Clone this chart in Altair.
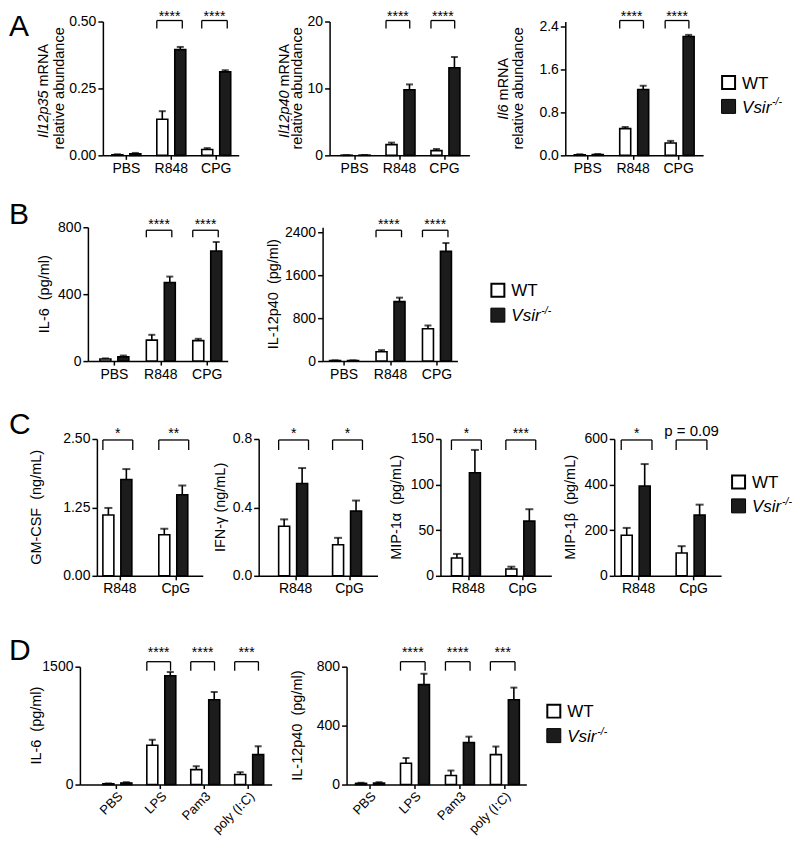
import altair as alt
import pandas as pd

FONT = "Liberation Sans"
INK = "black"
KO_FILL = "#1c1c1c"
GROUPS = ["WT", "KO"]

# ---------------- data ----------------
cats_abd = ["PBS", "R848", "CPG"]
cats_c = ["R848", "CpG"]
cats_d = ["PBS", "LPS", "Pam3", "poly (I:C)"]

sig_ab = ["", "****", "****"]
sig_c1 = ["*", "**"]
sig_c2 = ["*", "*"]
sig_c3 = ["*", "***"]
sig_c4 = ["*", "p = 0.09"]
sig_d = ["", "****", "****", "***"]

a1_wt = [0.002, 0.135, 0.022]; a1_wt_err = [0.004, 0.165, 0.027]
a1_ko = [0.006, 0.395, 0.312]; a1_ko_err = [0.009, 0.405, 0.318]
a2_wt = [0.02, 1.6, 0.7];      a2_wt_err = [0.03, 1.9, 0.95]
a2_ko = [0.03, 9.8, 13.1];     a2_ko_err = [0.05, 10.6, 14.7]
a3_wt = [0.01, 0.50, 0.23];    a3_wt_err = [0.02, 0.53, 0.27]
a3_ko = [0.015, 1.23, 2.22];   a3_ko_err = [0.025, 1.30, 2.25]
b1_wt = [12, 125, 122];        b1_wt_err = [16, 157, 133]
b1_ko = [25, 470, 658];        b1_ko_err = [33, 505, 712]
b2_wt = [10, 175, 605];        b2_wt_err = [14, 205, 665]
b2_ko = [10, 1110, 2050];      b2_ko_err = [14, 1185, 2205]
c1_wt = [1.11, 0.75];          c1_wt_err = [1.24, 0.86]
c1_ko = [1.76, 1.48];          c1_ko_err = [1.95, 1.65]
c2_wt = [0.29, 0.182];         c2_wt_err = [0.33, 0.222]
c2_ko = [0.54, 0.378];         c2_ko_err = [0.63, 0.44]
c3_wt = [19.5, 7.5];           c3_wt_err = [24, 10]
c3_ko = [113, 60];             c3_ko_err = [138, 73]
c4_wt = [178, 100];            c4_wt_err = [210, 130]
c4_ko = [394, 266];            c4_ko_err = [490, 312]
d1_wt = [10, 500, 190, 127];   d1_wt_err = [14, 570, 233, 157]
d1_ko = [20, 1385, 1080, 381]; d1_ko_err = [30, 1432, 1178, 487]
d2_wt = [8, 145, 61, 203];     d2_wt_err = [12, 180, 95, 258]
d2_ko = [10, 678, 285, 576];   d2_ko_err = [16, 752, 325, 658]

legend_labels = ["WT", "Vsir", "-/-"]
letters = ["A", "B", "C", "D"]

# ---------------- layout (sizes / positions only) ----------------
ROWS = {
    "A": dict(H=134, T=13, B=44, bt=-1, bb=7, sb=-1, pb=-1, lb=15, angle=0, xfs=14, xpad=2),
    "B": dict(H=134, T=28, B=49, bt=3, bb=10, sb=2, pb=2, lb=-3, angle=0, xfs=14, xpad=2),
    "C": dict(H=137, T=29, B=60, bt=1, bb=11, sb=-1, pb=-3, lb=-5, angle=0, xfs=14, xpad=2),
    "D": dict(H=118, T=31, B=56, bt=-5, bb=4, sb=-10, pb=-10, lb=-7, angle=-45, xfs=13, xpad=1),
}
TITLE_FS = 14.5


def band_params(W, n, s, g, c1):
    pI = 1 - g / s
    outer = W - (s * n - s + g)
    pO = outer / (2 * s)
    al = (c1 - g / 2) / outer if outer > 0 else 0.5
    return pI, max(pO, 0), min(max(al, 0), 1)


def text_layer(txt, x, y, **mk):
    return alt.Chart(pd.DataFrame({"t": [txt]})).mark_text(color=INK, **mk).encode(
        x=alt.value(x), y=alt.value(y), text="t:N")


def anchor_layer(L, W, T, bottom):
    # invisible box fixing the panel's footprint in the concat layout
    return alt.Chart(pd.DataFrame({"t": [0]})).mark_rect(fill="white", opacity=0).encode(
        x=alt.value(-L), x2=alt.value(W), y=alt.value(-T), y2=alt.value(bottom))


def make_gutter(row):
    H, T, B = row["H"], row["T"], row["B"]
    return anchor_layer(0, 1, T, H + B).properties(width=1, height=H)


def make_panel(d, lay, row, letter=None):
    cats = d["cats"]
    W, H, L, T, B = lay["W"], row["H"], lay["L"], row["T"], row["B"]
    pI, pO, al = band_params(W, len(cats), lay["s"], lay["g"], lay["c1"])
    bw = lay["b"]
    gap = lay["g"] - 2 * bw
    pIo = gap / (bw + gap)

    recs = []
    for i, c in enumerate(cats):
        recs.append(dict(cat=c, grp="WT", mean=d["wt"][i], err=d["wt_err"][i]))
        recs.append(dict(cat=c, grp="KO", mean=d["ko"][i], err=d["ko_err"][i]))
    df = pd.DataFrame(recs)
    sdf = pd.DataFrame({"cat": cats, "sig": d["sig"]})
    sdf = sdf[sdf["sig"] != ""]

    xscale = alt.Scale(domain=cats, paddingInner=pI, paddingOuter=pO, align=al)
    xaxis = alt.Axis(title=None, labelAngle=row["angle"], tickSize=4, labelOverlap=False,
                     labelPadding=row["xpad"], labelFontSize=row["xfs"])

    def X(bp=None):
        kw = dict(scale=xscale, axis=xaxis, sort=cats)
        if bp is not None:
            kw["bandPosition"] = bp
        return alt.X("cat:N", **kw)

    xo = alt.XOffset("grp:N", sort=GROUPS,
                     scale=alt.Scale(domain=GROUPS, paddingInner=pIo, paddingOuter=0))
    y = alt.Y("mean:Q", scale=alt.Scale(domain=[0, d["ymax"]], nice=False, zero=True),
              axis=alt.Axis(title=None, values=d["yticks"], format=d["yfmt"], labelOverlap=False))

    base = alt.Chart(df)
    anchor = anchor_layer(L, W, T, H + B)
    ebar = base.mark_rule(color=INK, strokeWidth=1.6).encode(
        x=X(), xOffset=xo, y=y, y2="err:Q")
    ecap = base.mark_tick(color=INK, thickness=2, size=lay["cap"], orient="horizontal").encode(
        x=X(), xOffset=xo, y="err:Q")
    bars = base.mark_bar(stroke=INK, strokeWidth=1.6).encode(
        x=X(), xOffset=xo, y=y,
        fill=alt.Fill("grp:N", scale=alt.Scale(domain=GROUPS, range=["white", KO_FILL]), legend=None))

    b0, b1 = 0.0, 0.88
    bs = alt.Chart(sdf)
    hline = bs.mark_rule(color=INK, strokeWidth=1.3).encode(
        x=X(b0), x2=alt.X2("cat:N", bandPosition=b1), y=alt.value(row["bt"]))
    v0 = bs.mark_rule(color=INK, strokeWidth=1.3).encode(
        x=X(b0), y=alt.value(row["bt"]), y2=alt.value(row["bb"]))
    v1 = bs.mark_rule(color=INK, strokeWidth=1.3).encode(
        x=X(b1), y=alt.value(row["bt"]), y2=alt.value(row["bb"]))
    stars = bs.transform_filter("indexof(datum.sig, '*') == 0").mark_text(
        color=INK, fontSize=14, baseline="alphabetic").encode(
        x=X((b0 + b1) / 2), y=alt.value(row["sb"]), text="sig:N")
    other = bs.transform_filter("indexof(datum.sig, '*') != 0").mark_text(
        color=INK, fontSize=15, baseline="alphabetic").encode(
        x=X((b0 + b1) / 2), y=alt.value(row["pb"]), text="sig:N")

    layers = [anchor, ebar, ecap, bars, hline, v0, v1, stars, other]

    if "title_it" in d:
        ay = H / 2 + lay.get("tshift", 0)
        layers.append(text_layer(d["title_it"], lay["tx1"], ay + 2, angle=270, align="right",
                                 baseline="middle", fontSize=TITLE_FS, fontStyle="italic"))
        layers.append(text_layer(d["title_rest"], lay["tx1"], ay - 2, angle=270, align="left",
                                 baseline="middle", fontSize=TITLE_FS))
        layers.append(text_layer(d["title2"], lay["tx2"], H / 2, angle=270, align="center",
                                 baseline="middle", fontSize=TITLE_FS))
    else:
        layers.append(text_layer(d["title"], lay["tx1"], H / 2, angle=270, align="center",
                                 baseline="middle", fontSize=TITLE_FS))
    if letter is not None:
        layers.append(text_layer(letter, -L, row["lb"], align="left", baseline="alphabetic",
                                 fontSize=30))
    return alt.layer(*layers).properties(width=W, height=H)


def make_legend(row, lay):
    W, H, L, T, B = lay["W"], row["H"], lay["L"], row["T"], row["B"]
    cy1, cy2 = lay["cy"]
    LF = 17
    one = pd.DataFrame({"t": [0]})
    anchor = anchor_layer(L, W, T, H + B)
    sq1 = alt.Chart(one).mark_rect(fill="white", stroke=INK, strokeWidth=2).encode(
        x=alt.value(1), x2=alt.value(14), y=alt.value(cy1 - 6.5), y2=alt.value(cy1 + 6.5))
    sq2 = alt.Chart(one).mark_rect(fill=KO_FILL, stroke=INK, strokeWidth=1).encode(
        x=alt.value(0.5), x2=alt.value(14.5), y=alt.value(cy2 - 7), y2=alt.value(cy2 + 7))
    tx = 21
    t1 = text_layer(legend_labels[0], tx, cy1 + 0.36 * LF, align="left", baseline="alphabetic",
                    fontSize=LF)
    t2 = text_layer(legend_labels[1], tx, cy2 + 0.36 * LF, align="left", baseline="alphabetic",
                    fontSize=LF, fontStyle="italic")
    t3 = text_layer(legend_labels[2], tx + 30, cy2 - 1, align="left", baseline="alphabetic",
                    fontSize=10.5, fontStyle="italic")
    return alt.layer(anchor, sq1, sq2, t1, t2, t3).properties(width=W, height=H)


def pd_(cats, wt, wte, ko, koe, sig, ymax, yticks, yfmt, **kw):
    d = dict(cats=cats, wt=wt, wt_err=wte, ko=ko, ko_err=koe, sig=sig, ymax=ymax,
             yticks=yticks, yfmt=yfmt)
    d.update(kw)
    return d


A1 = pd_(cats_abd, a1_wt, a1_wt_err, a1_ko, a1_ko_err, sig_ab, 0.5, [0, 0.25, 0.5], ".2f",
         title_it="Il12p35", title_rest="mRNA", title2="relative abundance")
A2 = pd_(cats_abd, a2_wt, a2_wt_err, a2_ko, a2_ko_err, sig_ab, 20, [0, 10, 20], "d",
         title_it="Il12p40", title_rest="mRNA", title2="relative abundance")
A3 = pd_(cats_abd, a3_wt, a3_wt_err, a3_ko, a3_ko_err, sig_ab, 2.5, [0, 0.8, 1.6, 2.4], ".1f",
         title_it="Il6", title_rest="mRNA", title2="relative abundance")
B1 = pd_(cats_abd, b1_wt, b1_wt_err, b1_ko, b1_ko_err, sig_ab, 800, [0, 400, 800], "d",
         title="IL-6\u00a0\u00a0(pg/ml)")
B2 = pd_(cats_abd, b2_wt, b2_wt_err, b2_ko, b2_ko_err, sig_ab, 2500, [0, 800, 1600, 2400], "d",
         title="IL-12p40\u00a0\u00a0(pg/ml)")
C1 = pd_(cats_c, c1_wt, c1_wt_err, c1_ko, c1_ko_err, sig_c1, 2.5, [0, 1.25, 2.5], ".2f",
         title="GM-CSF\u00a0\u00a0(ng/mL)")
C2 = pd_(cats_c, c2_wt, c2_wt_err, c2_ko, c2_ko_err, sig_c2, 0.8, [0, 0.4, 0.8], ".1f",
         title="IFN-\u03b3 (ng/mL)")
C3 = pd_(cats_c, c3_wt, c3_wt_err, c3_ko, c3_ko_err, sig_c3, 150, [0, 50, 100, 150], "d",
         title="MIP-1\u03b1\u00a0\u00a0(pg/mL)")
C4 = pd_(cats_c, c4_wt, c4_wt_err, c4_ko, c4_ko_err, sig_c4, 600, [0, 200, 400, 600], "d",
         title="MIP-1\u03b2\u00a0\u00a0(pg/mL)")
D1 = pd_(cats_d, d1_wt, d1_wt_err, d1_ko, d1_ko_err, sig_d, 1500, [0, 500, 1000, 1500], "d",
         title="IL-6\u00a0\u00a0(pg/ml)")
D2 = pd_(cats_d, d2_wt, d2_wt_err, d2_ko, d2_ko_err, sig_d, 800, [0, 400, 800], "d",
         title="IL-12p40\u00a0\u00a0(pg/ml)")

rowA = alt.hconcat(
    make_gutter(ROWS["A"]),
    make_panel(A1, dict(W=136, L=94, s=45, g=29, c1=23.5, b=11, cap=7, tx1=-59, tx2=-43), ROWS["A"], letters[0]),
    make_panel(A2, dict(W=140, L=91, s=45, g=27, c1=25, b=11, cap=7, tx1=-45, tx2=-32), ROWS["A"]),
    make_panel(A3, dict(W=138, L=96, s=45.5, g=27, c1=22.5, b=11, cap=7, tx1=-61, tx2=-46, tshift=14), ROWS["A"]),
    make_legend(ROWS["A"], dict(W=62, L=18, cy=(61, 85))),
    spacing=0)
rowB = alt.hconcat(
    make_gutter(ROWS["B"]),
    make_panel(B1, dict(W=140, L=79, s=46.5, g=29, c1=26.5, b=11.5, cap=7, tx1=-43), ROWS["B"], letters[1]),
    make_panel(B2, dict(W=135, L=95, s=46.5, g=29, c1=21.5, b=11.5, cap=7, tx1=-49), ROWS["B"]),
    make_legend(ROWS["B"], dict(W=62, L=33, cy=(63, 88))),
    spacing=0)
rowC = alt.hconcat(
    make_gutter(ROWS["C"]),
    make_panel(C1, dict(W=106, L=88, s=56, g=34, c1=23, b=13.5, cap=8, tx1=-60), ROWS["C"], letters[2]),
    make_panel(C2, dict(W=119, L=56, s=54, g=34, c1=37, b=13.5, cap=8, tx1=-38), ROWS["C"]),
    make_panel(C3, dict(W=111, L=63, s=54.5, g=34, c1=28, b=13.5, cap=8, tx1=-43), ROWS["C"]),
    make_panel(C4, dict(W=107, L=63, s=55, g=35, c1=24.5, b=13.5, cap=8, tx1=-43), ROWS["C"]),
    make_legend(ROWS["C"], dict(W=60, L=10, cy=(43, 67))),
    spacing=0)
rowD = alt.hconcat(
    make_gutter(ROWS["D"]),
    make_panel(D1, dict(W=192, L=71, s=44, g=27, c1=36.5, b=11, cap=7, tx1=-43), ROWS["D"], letters[3]),
    make_panel(D2, dict(W=180, L=75, s=45, g=28, c1=23, b=11, cap=7, tx1=-49), ROWS["D"]),
    make_legend(ROWS["D"], dict(W=62, L=20, cy=(44.5, 69))),
    spacing=0)

chart = alt.vconcat(rowA, rowB, rowC, rowD, spacing=0).properties(
    padding=0
).configure_view(stroke=None).configure_concat(spacing=0).configure_axis(
    labelFont=FONT, titleFont=FONT, labelFontSize=14, labelColor=INK,
    domainColor=INK, domainWidth=1.5, tickColor=INK, tickWidth=1.5, tickSize=5,
    labelPadding=2, grid=False
).configure_text(font=FONT)

chart.save("out.html", embed_options={"renderer": "svg", "actions": False})
